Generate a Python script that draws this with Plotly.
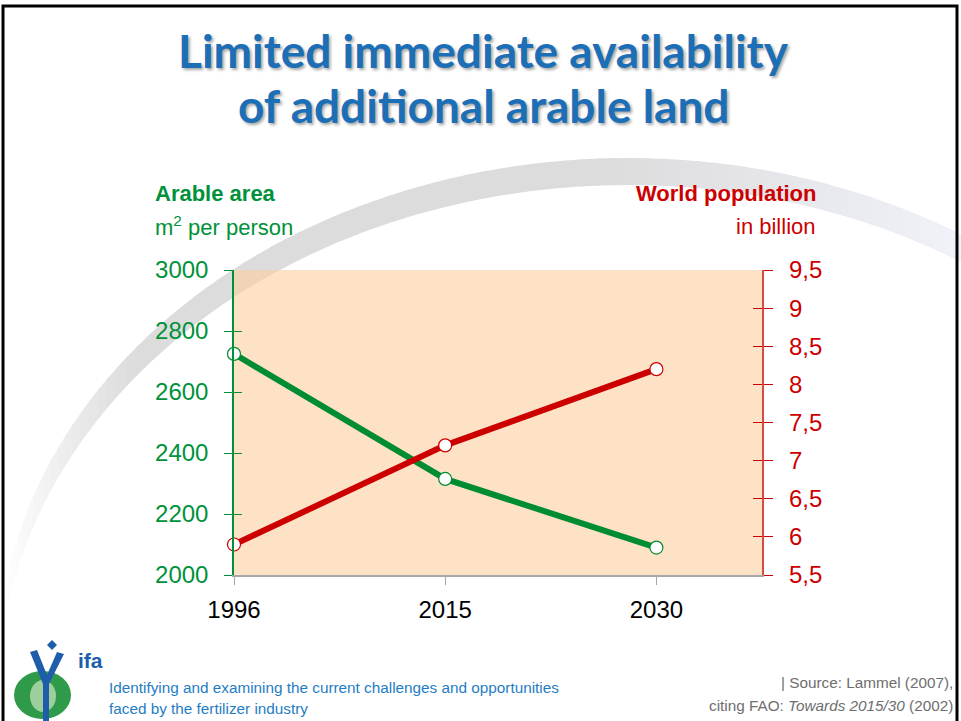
import numpy as np
import plotly.graph_objects as go

# data
years = ["1996", "2015", "2030"]
arable_m2 = [2725, 2315, 2090]
population_bn = [5.9, 7.2, 8.2]

left_ticks = [2000, 2200, 2400, 2600, 2800, 3000]
right_ticks = [5.5, 6, 6.5, 7, 7.5, 8, 8.5, 9, 9.5]
right_ticktext = ["5,5", "6", "6,5", "7", "7,5", "8", "8,5", "9", "9,5"]

GREEN = "#00923A"
RED = "#CC0000"
BLUE = "#1C6FB6"
FONT = "Liberation Sans, Arial, sans-serif"

# slide geometry (pixels)
W, H = 961, 721
L, R, T, B = 234, 762, 270, 575


def px(x):
    return (x - L) / (R - L)


def py(y):
    return (B - y) / (B - T)


def path(points):
    return "M " + " L ".join(f"{px(x):.5f},{py(y):.5f}" for x, y in points) + " Z"


shapes = []

# grey swoosh behind the chart
theta = np.linspace(np.radians(171.5), np.radians(52), 80)


def arc_color(x):
    if x < 135:
        t = max(0.0, (x - 5) / 130) ** 0.9
        g = 255 - (255 - 220) * t
        return f"rgb({g:.0f},{g:.0f},{g:.0f})"
    if x < 600:
        return "rgb(220,220,220)"
    t = min(1.0, (x - 600) / 361)
    r = 220 + 20 * t
    g = 220 + 22 * t
    b = 220 + 29 * t
    return f"rgb({r:.0f},{g:.0f},{b:.0f})"


for i in range(len(theta) - 1):
    t0, t1 = theta[i], theta[i + 1] - 0.004
    xo0, yo0 = 628 + 630 * np.cos(t0), 663 - 505 * np.sin(t0)
    xo1, yo1 = 628 + 630 * np.cos(t1), 663 - 505 * np.sin(t1)
    xi0, yi0 = 628 + 630 * np.cos(t0), 695 - 510 * np.sin(t0)
    xi1, yi1 = 628 + 630 * np.cos(t1), 695 - 510 * np.sin(t1)
    shapes.append(dict(type="path", xref="paper", yref="paper", layer="below",
                       path=path([(xo0, yo0), (xo1, yo1), (xi1, yi1), (xi0, yi0)]),
                       fillcolor=arc_color((xo0 + xo1) / 2), line=dict(width=0)))

# peach plot area, semi transparent over the swoosh
shapes.append(dict(type="rect", xref="paper", yref="paper", layer="below",
                   x0=0, x1=1, y0=0, y1=1, fillcolor="rgb(252,206,160)",
                   opacity=0.6, line=dict(width=0)))

# slide frame
shapes.append(dict(type="rect", xref="paper", yref="paper", layer="above",
                   x0=px(3), x1=px(957), y0=py(740), y1=py(6),
                   line=dict(color="black", width=3)))

# ifa logo
shapes.append(dict(type="circle", xref="paper", yref="paper", layer="above",
                   x0=px(14), x1=px(71), y0=py(719), y1=py(671),
                   fillcolor="#2F9A4A", line=dict(width=0)))
shapes.append(dict(type="circle", xref="paper", yref="paper", layer="above",
                   x0=px(30), x1=px(56), y0=py(712), y1=py(680),
                   fillcolor="#9CCF9C", line=dict(width=0)))
shapes.append(dict(type="path", xref="paper", yref="paper", layer="above",
                   path=path([(30, 652), (37, 650), (47, 675), (57, 652), (64, 654),
                              (49, 684), (49, 721), (43, 721), (43, 684)]),
                   fillcolor="#1E5DAA", line=dict(width=0)))
shapes.append(dict(type="path", xref="paper", yref="paper", layer="above",
                   path=path([(52, 640), (57, 645), (52, 650), (47, 645)]),
                   fillcolor="#1E5DAA", line=dict(width=0)))

fig = go.Figure()

fig.add_trace(go.Scatter(
    x=years, y=arable_m2, mode="lines+markers", cliponaxis=False,
    line=dict(color="#008C30", width=6),
    marker=dict(size=13, color="white", line=dict(color="#008C30", width=1.2)),
    hoverinfo="x+y"))
fig.add_trace(go.Scatter(
    x=years, y=population_bn, yaxis="y2", mode="lines+markers", cliponaxis=False,
    line=dict(color=RED, width=6),
    marker=dict(size=13, color="white", line=dict(color=RED, width=1.2)),
    hoverinfo="x+y"))
# empty traces so the inner tick axes get drawn
fig.add_trace(go.Scatter(x=[None], y=[None], yaxis="y3", hoverinfo="skip"))
fig.add_trace(go.Scatter(x=[None], y=[None], yaxis="y4", hoverinfo="skip"))

annotations = [
    dict(text="Limited immediate availability", x=px(483), y=py(50)),
    dict(text="of additional arable land", x=px(483), y=py(105)),
]
for a in annotations:
    a.update(xref="paper", yref="paper", xanchor="center", yanchor="middle",
             showarrow=False,
             font=dict(family="Lato, Noto Sans, sans-serif", size=46, color=BLUE,
                       weight="bold", shadow="2px 2px 3px rgba(0,0,0,0.35)"))

text_items = [
    ("<b>Arable area</b>", 153, 193, "left", GREEN, 22),
    ("m<sup>2</sup> per person", 153, 226, "left", GREEN, 22),
    ("<b>World population</b>", 818, 193, "right", RED, 22),
    ("in billion", 818, 226, "right", RED, 22),
]
for txt, x, y, anchor, col, size in text_items:
    annotations.append(dict(text=txt, x=px(x), y=py(y), xref="paper", yref="paper",
                            xanchor=anchor, yanchor="middle", showarrow=False,
                            font=dict(family=FONT, size=size, color=col)))

annotations.append(dict(text="<b>ifa</b>", x=px(76), y=py(660), xref="paper", yref="paper",
                        xanchor="left", yanchor="middle", showarrow=False,
                        font=dict(family=FONT, size=21, color="#1E5DAA")))

footer = [
    ("Identifying and examining the current challenges and opportunities", 107, 687, "left", "#1F7DC4"),
    ("faced by the fertilizer industry", 107, 708, "left", "#1F7DC4"),
    ("| Source: Lammel (2007),", 955, 682, "right", "#6E6E6E"),
    ("citing FAO: <i>Towards 2015/30</i> (2002)", 955, 705, "right", "#6E6E6E"),
]
for txt, x, y, anchor, col in footer:
    annotations.append(dict(text=txt, x=px(x), y=py(y), xref="paper", yref="paper",
                            xanchor=anchor, yanchor="middle", showarrow=False,
                            font=dict(family=FONT, size=15.3, color=col)))

fig.update_layout(
    width=W, height=H, autosize=False,
    margin=dict(l=L, r=W - R, t=T, b=H - B, pad=0),
    paper_bgcolor="white", plot_bgcolor="rgba(0,0,0,0)",
    showlegend=False,
    font=dict(family=FONT),
    shapes=shapes,
    annotations=annotations,
    xaxis=dict(type="category", categoryorder="array", categoryarray=years,
               range=[0, 2.5], showgrid=False, zeroline=False,
               showline=True, linecolor="#A6A6A6", linewidth=1.5,
               ticks="outside", ticklen=8, tickcolor="#A6A6A6", tickwidth=1.2,
               tickfont=dict(size=24, color="black"), ticklabelstandoff=4),
    yaxis=dict(range=[2000, 3000], tickvals=left_ticks, showgrid=False, zeroline=False,
               showline=True, linecolor=GREEN, linewidth=1.5,
               ticks="outside", ticklen=8, tickcolor=GREEN, tickwidth=1.2,
               tickfont=dict(size=24, color=GREEN), ticklabelstandoff=11),
    yaxis2=dict(range=[5.5, 9.5], tickvals=right_ticks, ticktext=right_ticktext,
                overlaying="y", side="right", anchor="x", showgrid=False, zeroline=False,
                showline=True, linecolor="#D94A4A", linewidth=2.2,
                ticks="outside", ticklen=9, tickcolor=RED, tickwidth=1.2,
                tickfont=dict(size=24, color=RED), ticklabelstandoff=11),
    yaxis3=dict(range=[2000, 3000], tickvals=left_ticks, overlaying="y", side="left",
                anchor="x", showgrid=False, zeroline=False, showline=False,
                showticklabels=False, ticks="inside", ticklen=8, tickcolor=GREEN,
                tickwidth=1.2),
    yaxis4=dict(range=[5.5, 9.5], tickvals=right_ticks, overlaying="y", side="right",
                anchor="x", showgrid=False, zeroline=False, showline=False,
                showticklabels=False, ticks="inside", ticklen=9, tickcolor=RED,
                tickwidth=1.2),
)

# the page body has a default 8px margin; drop it so the slide sits at 0,0
fig.write_html("out.html", config={"displayModeBar": False},
               post_script="document.body.style.margin='0';")
